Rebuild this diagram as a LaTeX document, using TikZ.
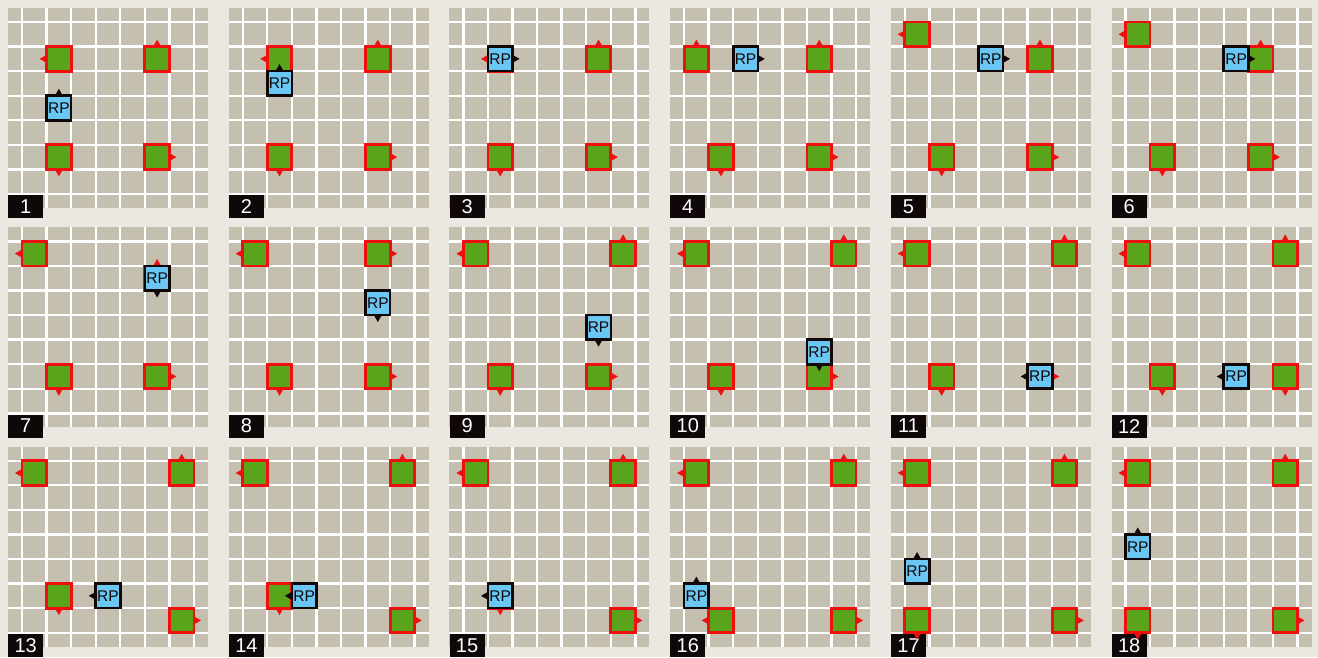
\documentclass[tikz,border=0pt]{standalone}
\usepackage{fontspec}
\setmainfont{Liberation Sans}
\usepackage{tikz}
\definecolor{pBack}{RGB}{235,232,226}
\definecolor{pField}{RGB}{197,191,176}
\definecolor{pGreen}{RGB}{90,164,28}
\definecolor{pRed}{RGB}{240,14,14}
\definecolor{pBlue}{RGB}{106,198,242}
\definecolor{pInk}{RGB}{16,8,8}

\tikzset{
  panel/.style 2 args={shift={({22+#1*220.7},{22+#2*219.35})}, x=24.57pt, y=-24.57pt},
  gridline/.style={white, line width=2.4pt},
  gsq/.style={draw=pRed, fill=pGreen, line width=2.8pt, minimum size=24.57pt, inner sep=0pt, outer sep=0pt},
  rpsq/.style={draw=pInk, fill=pBlue, line width=2.6pt, minimum size=24.57pt, inner sep=0pt, outer sep=0pt,
    text=pInk, font=\fontsize{15.5}{16}\selectfont},
  numtag/.style={fill=pInk, text=white, minimum width=35pt, minimum height=23pt, inner sep=0pt,
    anchor=north west, font=\fontsize{20}{20}\selectfont}
}

% small pointers on the side of a square
\newcommand{\tipN}[2]{\fill[#1] ([xshift=-4pt]#2.north) -- ([yshift=7pt]#2.north) -- ([xshift=4pt]#2.north) -- cycle;}
\newcommand{\tipS}[2]{\fill[#1] ([xshift=-4pt]#2.south) -- ([yshift=-7pt]#2.south) -- ([xshift=4pt]#2.south) -- cycle;}
\newcommand{\tipE}[2]{\fill[#1] ([yshift=4pt]#2.east) -- ([xshift=7pt]#2.east) -- ([yshift=-4pt]#2.east) -- cycle;}
\newcommand{\tipW}[2]{\fill[#1] ([yshift=4pt]#2.west) -- ([xshift=-7pt]#2.west) -- ([yshift=-4pt]#2.west) -- cycle;}

\newcommand{\gsquare}[4]{\node[gsq] (#1) at ({#2+0.5},{#3+0.5}) {}; \csname tip#4\endcsname{pRed}{#1}}
\newcommand{\rpsquare}[4]{\node[rpsq] (#1) at ({#2+0.5},{#3+0.5}) {RP}; \csname tip#4\endcsname{pInk}{#1}}

\newcommand{\fieldpanel}[1]{%
  \fill[pField] (-0.57,-0.57) rectangle (7.57,7.57);
  \foreach \k in {0,...,7} {
    \draw[gridline] (\k,-0.57) -- (\k,7.57);
    \draw[gridline] (-0.57,\k) -- (7.57,\k);
  }
  \node[numtag] (tag#1) at (-0.57,7.04) {#1};
}

\begin{document}
\begin{tikzpicture}[x=1pt, y=-1pt]
  \useasboundingbox (0,0) rectangle (1318,657);
  \fill[pBack] (0,0) rectangle (1318,657);

  % row 1
  \begin{scope}[panel={0}{0}]
    \fieldpanel{1}
    \gsquare{g1a}{1}{1}{W} \gsquare{g1b}{5}{1}{N} \gsquare{g1c}{1}{5}{S} \gsquare{g1d}{5}{5}{E}
    \rpsquare{rp1}{1}{3}{N}
  \end{scope}
  \begin{scope}[panel={1}{0}]
    \fieldpanel{2}
    \gsquare{g2a}{1}{1}{W} \gsquare{g2b}{5}{1}{N} \gsquare{g2c}{1}{5}{S} \gsquare{g2d}{5}{5}{E}
    \rpsquare{rp2}{1}{2}{N}
  \end{scope}
  \begin{scope}[panel={2}{0}]
    \fieldpanel{3}
    \gsquare{g3a}{1}{1}{W} \gsquare{g3b}{5}{1}{N} \gsquare{g3c}{1}{5}{S} \gsquare{g3d}{5}{5}{E}
    \rpsquare{rp3}{1}{1}{E}
  \end{scope}
  \begin{scope}[panel={3}{0}]
    \fieldpanel{4}
    \gsquare{g4a}{0}{1}{N} \gsquare{g4b}{5}{1}{N} \gsquare{g4c}{1}{5}{S} \gsquare{g4d}{5}{5}{E}
    \rpsquare{rp4}{2}{1}{E}
  \end{scope}
  \begin{scope}[panel={4}{0}]
    \fieldpanel{5}
    \gsquare{g5a}{0}{0}{W} \gsquare{g5b}{5}{1}{N} \gsquare{g5c}{1}{5}{S} \gsquare{g5d}{5}{5}{E}
    \rpsquare{rp5}{3}{1}{E}
  \end{scope}
  \begin{scope}[panel={5}{0}]
    \fieldpanel{6}
    \gsquare{g6a}{0}{0}{W} \gsquare{g6b}{5}{1}{N} \gsquare{g6c}{1}{5}{S} \gsquare{g6d}{5}{5}{E}
    \rpsquare{rp6}{4}{1}{E}
  \end{scope}

  % row 2
  \begin{scope}[panel={0}{1}]
    \fieldpanel{7}
    \gsquare{g7a}{0}{0}{W} \gsquare{g7b}{5}{1}{N} \gsquare{g7c}{1}{5}{S} \gsquare{g7d}{5}{5}{E}
    \rpsquare{rp7}{5}{1}{S}
  \end{scope}
  \begin{scope}[panel={1}{1}]
    \fieldpanel{8}
    \gsquare{g8a}{0}{0}{W} \gsquare{g8b}{5}{0}{E} \gsquare{g8c}{1}{5}{S} \gsquare{g8d}{5}{5}{E}
    \rpsquare{rp8}{5}{2}{S}
  \end{scope}
  \begin{scope}[panel={2}{1}]
    \fieldpanel{9}
    \gsquare{g9a}{0}{0}{W} \gsquare{g9b}{6}{0}{N} \gsquare{g9c}{1}{5}{S} \gsquare{g9d}{5}{5}{E}
    \rpsquare{rp9}{5}{3}{S}
  \end{scope}
  \begin{scope}[panel={3}{1}]
    \fieldpanel{10}
    \gsquare{g10a}{0}{0}{W} \gsquare{g10b}{6}{0}{N} \gsquare{g10c}{1}{5}{S} \gsquare{g10d}{5}{5}{E}
    \rpsquare{rp10}{5}{4}{S}
  \end{scope}
  \begin{scope}[panel={4}{1}]
    \fieldpanel{11}
    \gsquare{g11a}{0}{0}{W} \gsquare{g11b}{6}{0}{N} \gsquare{g11c}{1}{5}{S} \gsquare{g11d}{5}{5}{E}
    \rpsquare{rp11}{5}{5}{W}
  \end{scope}
  \begin{scope}[panel={5}{1}]
    \fieldpanel{12}
    \gsquare{g12a}{0}{0}{W} \gsquare{g12b}{6}{0}{N} \gsquare{g12c}{1}{5}{S} \gsquare{g12d}{6}{5}{S}
    \rpsquare{rp12}{4}{5}{W}
  \end{scope}

  % row 3
  \begin{scope}[panel={0}{2}]
    \fieldpanel{13}
    \gsquare{g13a}{0}{0}{W} \gsquare{g13b}{6}{0}{N} \gsquare{g13c}{1}{5}{S} \gsquare{g13d}{6}{6}{E}
    \rpsquare{rp13}{3}{5}{W}
  \end{scope}
  \begin{scope}[panel={1}{2}]
    \fieldpanel{14}
    \gsquare{g14a}{0}{0}{W} \gsquare{g14b}{6}{0}{N} \gsquare{g14c}{1}{5}{S} \gsquare{g14d}{6}{6}{E}
    \rpsquare{rp14}{2}{5}{W}
  \end{scope}
  \begin{scope}[panel={2}{2}]
    \fieldpanel{15}
    \gsquare{g15a}{0}{0}{W} \gsquare{g15b}{6}{0}{N} \gsquare{g15c}{1}{5}{S} \gsquare{g15d}{6}{6}{E}
    \rpsquare{rp15}{1}{5}{W}
  \end{scope}
  \begin{scope}[panel={3}{2}]
    \fieldpanel{16}
    \gsquare{g16a}{0}{0}{W} \gsquare{g16b}{6}{0}{N} \gsquare{g16c}{1}{6}{W} \gsquare{g16d}{6}{6}{E}
    \rpsquare{rp16}{0}{5}{N}
  \end{scope}
  \begin{scope}[panel={4}{2}]
    \fieldpanel{17}
    \gsquare{g17a}{0}{0}{W} \gsquare{g17b}{6}{0}{N} \gsquare{g17c}{0}{6}{S} \gsquare{g17d}{6}{6}{E}
    \rpsquare{rp17}{0}{4}{N}
  \end{scope}
  \begin{scope}[panel={5}{2}]
    \fieldpanel{18}
    \gsquare{g18a}{0}{0}{W} \gsquare{g18b}{6}{0}{N} \gsquare{g18c}{0}{6}{S} \gsquare{g18d}{6}{6}{E}
    \rpsquare{rp18}{0}{3}{N}
  \end{scope}
\end{tikzpicture}
\end{document}
